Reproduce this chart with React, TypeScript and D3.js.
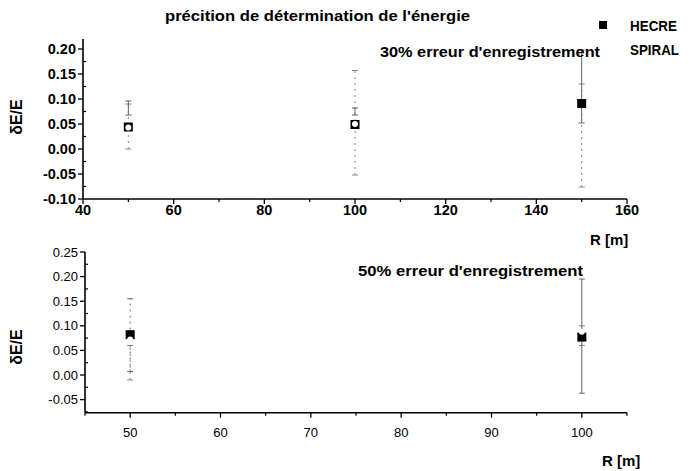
import React from "react";
import * as d3 from "d3";

// ---- data ----
const radiiTop = [50, 100, 150];
const hecreTop = [0.044, 0.049, 0.091];
const hecreTopLow = [0.068, 0.068, 0.052];
const hecreTopHigh = [0.096, 0.082, 0.198];
const spiralTop = [0.043, 0.05, null as number | null];
const spiralTopLow = [0.0, -0.052, -0.076];
const spiralTopHigh = [0.09, 0.157, 0.13];

const radiiBot = [50, 100];
const hecreBot = [0.082, 0.077];
const hecreBotLow = [0.007, -0.037];
const hecreBotHigh = [0.155, 0.195];
const spiralBot = [0.072, 0.088];
const spiralBotLow = [-0.01, 0.06];
const spiralBotHigh = [0.06, 0.1];

const topXTicks = [40, 60, 80, 100, 120, 140, 160];
const topXMinor = [50, 70, 90, 110, 130, 150];
const topYTicks = [-0.1, -0.05, 0.0, 0.05, 0.1, 0.15, 0.2];
const topYMinor = [-0.075, -0.025, 0.025, 0.075, 0.125, 0.175];
const botXTicks = [50, 60, 70, 80, 90, 100];
const botXMinor = [45, 55, 65, 75, 85, 95, 105];
const botYTicks = [-0.05, 0.0, 0.05, 0.1, 0.15, 0.2, 0.25];
const botYMinor = [-0.075, -0.025, 0.025, 0.075, 0.125, 0.175, 0.225];

const seriesNames = ["HECRE", "SPIRAL"];
const titleText = "précition de détermination de l'énergie";
const topNote = "30% erreur d'enregistrement";
const botNote = "50% erreur d'enregistrement";

const FONT = "'Liberation Sans', Arial, sans-serif";

type PanelProps = {
  x: d3.ScaleLinear<number, number>;
  y: d3.ScaleLinear<number, number>;
  xTicks: number[];
  xMinor: number[];
  yTicks: number[];
  yMinor: number[];
  bold: boolean;
  tickSize: number;
  xLabelOffset: number;
};

function Axes({ x, y, xTicks, xMinor, yTicks, yMinor, bold, tickSize, xLabelOffset }: PanelProps) {
  const [x0, x1] = x.range();
  const [yb, yt] = y.range();
  return (
    <g fontFamily={FONT} fill="#000">
      <line x1={x0} x2={x1} y1={yb} y2={yb} stroke="#000" strokeWidth={1.6} />
      <line x1={x0} x2={x0} y1={yb} y2={yt} stroke="#000" strokeWidth={1.6} />
      {xTicks.map((t) => (
        <g key={"xt" + t}>
          <line x1={x(t)} x2={x(t)} y1={yb} y2={yb + 5} stroke="#000" strokeWidth={1.3} />
          <text
            x={x(t)}
            y={yb + xLabelOffset}
            textAnchor="middle"
            fontSize={tickSize}
            fontWeight={bold ? "bold" : "normal"}
          >
            {d3.format("d")(t)}
          </text>
        </g>
      ))}
      {xMinor.map((t) => (
        <line key={"xm" + t} x1={x(t)} x2={x(t)} y1={yb} y2={yb + 3} stroke="#000" strokeWidth={1.2} />
      ))}
      {yTicks.map((t) => (
        <g key={"yt" + t}>
          <line x1={x0 - 5} x2={x0} y1={y(t)} y2={y(t)} stroke="#000" strokeWidth={1.3} />
          <text
            x={x0 - 7}
            y={y(t) + tickSize * 0.36}
            textAnchor="end"
            fontSize={tickSize}
            fontWeight={bold ? "bold" : "normal"}
          >
            {d3.format(".2f")(t).replace("−", "-")}
          </text>
        </g>
      ))}
      {yMinor.map((t) => (
        <line key={"ym" + t} x1={x0} x2={x0 + 3} y1={y(t)} y2={y(t)} stroke="#000" strokeWidth={1.2} />
      ))}
    </g>
  );
}

function ErrBar({ cx, lo, hi, dashed, color }: { cx: number; lo: number; hi: number; dashed: boolean; color: string }) {
  return (
    <g stroke={color} strokeWidth={1} fill="none">
      <line x1={cx} x2={cx} y1={lo} y2={hi} strokeDasharray={dashed ? "2,4" : undefined} />
      <line x1={cx - 3} x2={cx + 3} y1={lo} y2={lo} />
      <line x1={cx - 3} x2={cx + 3} y1={hi} y2={hi} />
    </g>
  );
}

export default function App() {
  const W = 691;
  const H = 471;

  const xTop = d3.scaleLinear().domain([40, 160]).range([83, 627]);
  const yTop = d3.scaleLinear().domain([-0.1, 0.22]).range([199, 39]);
  const xBot = d3.scaleLinear().domain([45, 105]).range([85, 627]);
  const yBot = d3.scaleLinear().domain([-0.0766, 0.25]).range([412.7, 252]);

  const sq = 9;

  return (
    <svg width={W} height={H} style={{ position: "absolute", left: 0, top: 0, background: "#fff" }}>
      <rect width={W} height={H} fill="#fff" />
      {/* title */}
      <text
        x={165}
        y={21}
        fontFamily={FONT}
        fontWeight="bold"
        fontSize={15}
        textLength={305}
        lengthAdjust="spacingAndGlyphs"
      >
        {titleText}
      </text>

      {/* legend */}
      <rect x={599} y={21} width={8} height={8} fill="#000" />
      <text x={630} y={31} fontFamily={FONT} fontWeight="bold" fontSize={14} textLength={47} lengthAdjust="spacingAndGlyphs">
        {seriesNames[0]}
      </text>
      <circle cx={603} cy={50} r={3} fill="#fff" />
      <text x={630} y={55} fontFamily={FONT} fontWeight="bold" fontSize={14} textLength={49} lengthAdjust="spacingAndGlyphs">
        {seriesNames[1]}
      </text>

      {/* TOP PANEL */}
      <Axes
        x={xTop}
        y={yTop}
        xTicks={topXTicks}
        xMinor={topXMinor}
        yTicks={topYTicks}
        yMinor={topYMinor}
        bold={true}
        tickSize={14.5}
        xLabelOffset={16}
      />
      <text
        transform={`translate(22,117) rotate(-90)`}
        textAnchor="middle"
        fontFamily={FONT}
        fontWeight="bold"
        fontSize={16}
      >
        δE/E
      </text>
      <text x={590} y={245} fontFamily={FONT} fontWeight="bold" fontSize={15}>
        R [m]
      </text>
      {radiiTop.map((r, i) => (
        <g key={"st" + r}>
          <ErrBar cx={xTop(r)} lo={yTop(spiralTopLow[i])} hi={yTop(spiralTopHigh[i])} dashed={true} color="#888" />
          <ErrBar cx={xTop(r)} lo={yTop(hecreTopLow[i])} hi={yTop(hecreTopHigh[i])} dashed={false} color="#666" />
        </g>
      ))}
      <text x={380} y={57} fontFamily={FONT} fontWeight="bold" fontSize={14} textLength={220} lengthAdjust="spacingAndGlyphs">
        {topNote}
      </text>
      {radiiTop.map((r, i) => (
        <rect key={"ht" + r} x={xTop(r) - sq / 2} y={yTop(hecreTop[i]) - sq / 2} width={sq} height={sq} fill="#000" />
      ))}
      {radiiTop.map((r, i) =>
        spiralTop[i] === null ? null : (
          <circle key={"sp" + r} cx={xTop(r)} cy={yTop(spiralTop[i] as number)} r={3} fill="#fff" />
        )
      )}

      {/* BOTTOM PANEL */}
      <Axes
        x={xBot}
        y={yBot}
        xTicks={botXTicks}
        xMinor={botXMinor}
        yTicks={botYTicks}
        yMinor={botYMinor}
        bold={false}
        tickSize={13}
        xLabelOffset={24}
      />
      <text
        transform={`translate(22,347) rotate(-90)`}
        textAnchor="middle"
        fontFamily={FONT}
        fontWeight="bold"
        fontSize={16}
      >
        δE/E
      </text>
      <text x={602} y={466} fontFamily={FONT} fontWeight="bold" fontSize={15}>
        R [m]
      </text>
      {radiiBot.map((r, i) => (
        <g key={"sb" + r}>
          <ErrBar cx={xBot(r)} lo={yBot(spiralBotLow[i])} hi={yBot(spiralBotHigh[i])} dashed={true} color="#888" />
          <ErrBar cx={xBot(r)} lo={yBot(hecreBotLow[i])} hi={yBot(hecreBotHigh[i])} dashed={i === 0} color="#666" />
        </g>
      ))}
      <text x={358} y={276} fontFamily={FONT} fontWeight="bold" fontSize={14} textLength={225} lengthAdjust="spacingAndGlyphs">
        {botNote}
      </text>
      {radiiBot.map((r, i) => (
        <rect key={"hb" + r} x={xBot(r) - sq / 2} y={yBot(hecreBot[i]) - sq / 2} width={sq} height={sq} fill="#000" />
      ))}
      {radiiBot.map((r, i) => (
        <circle key={"spb" + r} cx={xBot(r)} cy={yBot(spiralBot[i])} r={3} fill="#fff" />
      ))}
    </svg>
  );
}
